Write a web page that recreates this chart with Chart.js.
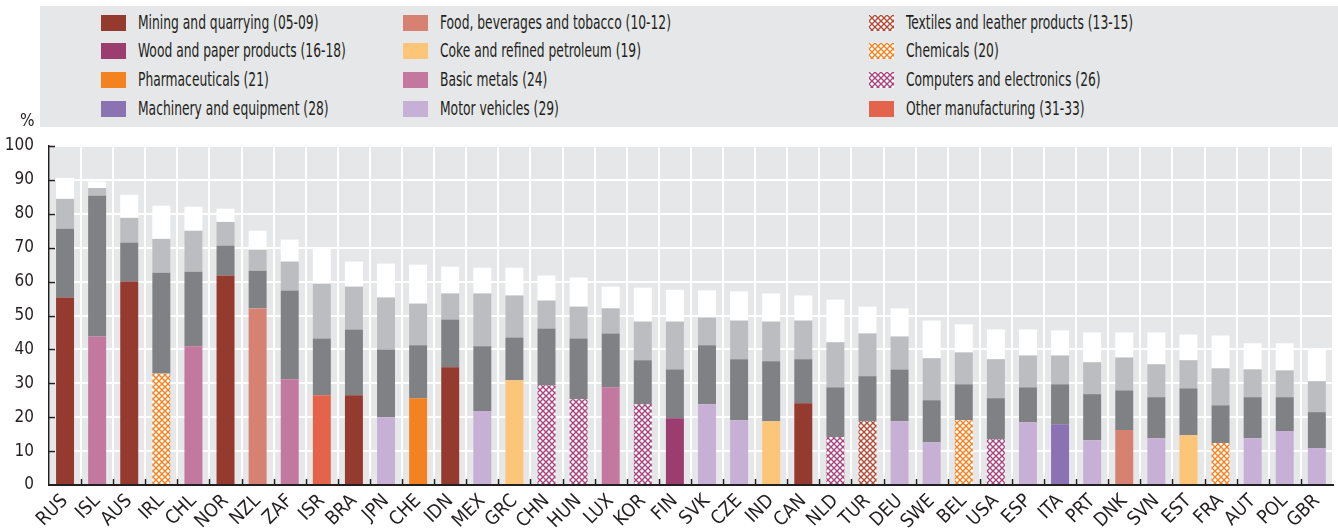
<!DOCTYPE html>
<html>
<head>
<meta charset="utf-8">
<script src="https://cdn.jsdelivr.net/npm/chart.js@4/dist/chart.umd.min.js"></script>
<style>
  body { margin: 0; background: #fff; }
  #wrap { position: relative; width: 1338px; height: 530px; }
  #chart { position: absolute; left: 0; top: 0; }
  #legend {
    position: absolute; left: 40px; top: 6px; width: 1298px; height: 121px;
    background: #e6e7e8;
    font-family: "DejaVu Sans Condensed", "Liberation Sans Narrow", sans-serif;
    font-size: 19px; color: #231f20;
  }
  .item { position: absolute; height: 16px; line-height: 16px; white-space: nowrap; }
  .sw { position: absolute; left: 0; top: 0; width: 25px; height: 16px; }
  .lbl { position: absolute; left: 37px; top: -1px; transform: scaleX(0.72); transform-origin: 0 50%; }
  #pct { position: absolute; left: 20px; top: 110px; font: 17px "DejaVu Sans Condensed", sans-serif; color: #231f20; }
</style>
</head>
<body>
<div id="wrap">
  <canvas id="chart" width="1338" height="530"></canvas>
  <div id="legend"></div>
  <div id="pct">%</div>
</div>
<script>
const countries = ['RUS','ISL','AUS','IRL','CHL','NOR','NZL','ZAF','ISR','BRA','JPN','CHE','IDN','MEX','GRC','CHN','HUN','LUX','KOR','FIN','SVK','CZE','IND','CAN','NLD','TUR','DEU','SWE','BEL','USA','ESP','ITA','PRT','DNK','SVN','EST','FRA','AUT','POL','GBR'];

// largest industry in each country
const topIndustry = ['mining','metals','mining','chemicals','metals','mining','food','metals','other','mining','motor','pharma','mining','motor','coke','computers','computers','metals','computers','wood','motor','motor','coke','mining','computers','textiles','motor','motor','chemicals','computers','motor','machinery','motor','food','motor','coke','chemicals','motor','motor','motor'];

// cumulative shares, %
const shareTop = [55.3,43.8,60.0,32.9,40.9,61.8,52.1,31.2,26.5,26.5,20.0,25.6,34.7,21.8,30.9,29.4,25.3,28.8,23.8,19.7,23.8,19.1,18.8,24.1,14.1,18.8,18.8,12.6,19.1,13.5,18.5,17.9,13.2,16.2,13.8,14.7,12.4,13.8,15.9,10.9];
const shareLevel2 = [75.6,85.3,71.5,62.6,62.9,70.6,63.2,57.4,43.2,45.9,40.0,41.2,48.8,40.9,43.5,46.2,43.2,44.7,36.8,34.1,41.2,37.1,36.5,37.1,28.8,32.1,34.1,25.0,29.7,25.6,28.8,29.7,26.8,27.9,25.9,28.5,23.5,25.9,25.9,21.5];
const shareLevel3 = [84.4,87.6,78.8,72.6,75.0,77.6,69.4,65.9,59.4,58.5,55.3,53.5,56.5,56.5,55.9,54.4,52.6,52.1,48.2,48.2,49.4,48.5,48.2,48.5,42.1,44.7,43.8,37.4,39.1,37.1,38.2,38.2,36.2,37.6,35.6,36.8,34.4,34.1,33.8,30.6];
const shareLevel4 = [90.6,89.5,85.6,82.4,82.1,81.5,75.0,72.4,69.7,65.9,65.3,65.0,64.4,64.1,64.1,61.8,61.2,58.5,58.2,57.6,57.4,57.1,56.5,55.9,54.7,52.6,52.1,48.5,47.4,45.9,45.9,45.6,45.0,45.0,45.0,44.4,44.1,41.8,41.8,40.0];

const industries = [
  { key: 'mining',    label: 'Mining and quarrying (05-09)',        color: '#953a2e' },
  { key: 'food',      label: 'Food, beverages and tobacco (10-12)', color: '#d68171' },
  { key: 'textiles',  label: 'Textiles and leather products (13-15)', color: '#b24a35', hatch: true },
  { key: 'wood',      label: 'Wood and paper products (16-18)',     color: '#9c3d6f' },
  { key: 'coke',      label: 'Coke and refined petroleum (19)',     color: '#fdc577' },
  { key: 'chemicals', label: 'Chemicals (20)',                      color: '#f58220', hatch: true },
  { key: 'pharma',    label: 'Pharmaceuticals (21)',                color: '#f58220' },
  { key: 'metals',    label: 'Basic metals (24)',                   color: '#c2789f' },
  { key: 'computers', label: 'Computers and electronics (26)',      color: '#a8437f', hatch: true },
  { key: 'machinery', label: 'Machinery and equipment (28)',        color: '#8a72b3' },
  { key: 'motor',     label: 'Motor vehicles (29)',                 color: '#c7b0d5' },
  { key: 'other',     label: 'Other manufacturing (31-33)',         color: '#e4644b' },
];

function makeHatch(color) {
  const c = document.createElement('canvas');
  c.width = 6; c.height = 6;
  const g = c.getContext('2d');
  g.fillStyle = '#fff';
  g.fillRect(0, 0, 6, 6);
  g.strokeStyle = color;
  g.lineWidth = 1.4;
  g.beginPath();
  g.moveTo(-1, -1); g.lineTo(7, 7);
  g.moveTo(7, -1); g.lineTo(-1, 7);
  g.stroke();
  return c;
}

const ctx = document.getElementById('chart').getContext('2d');
const fills = {};
industries.forEach(ind => {
  if (ind.hatch) {
    const tile = makeHatch(ind.color);
    fills[ind.key] = { fill: ctx.createPattern(tile, 'repeat'), css: 'url(' + tile.toDataURL() + ')' };
  } else {
    fills[ind.key] = { fill: ind.color, css: ind.color };
  }
});

// legend, 3 columns x 4 rows
const legendEl = document.getElementById('legend');
const colX = [61, 363, 829];
const rowY = [9, 37, 66, 95];
industries.forEach((ind, i) => {
  const d = document.createElement('div');
  d.className = 'item';
  d.style.left = colX[i % 3] + 'px';
  d.style.top = rowY[Math.floor(i / 3)] + 'px';
  const sw = document.createElement('span');
  sw.className = 'sw';
  sw.style.background = fills[ind.key].css;
  const t = document.createElement('span');
  t.className = 'lbl';
  t.textContent = ind.label;
  d.appendChild(sw); d.appendChild(t);
  legendEl.appendChild(d);
});

const seg2 = shareLevel2.map((v, i) => +(v - shareTop[i]).toFixed(1));
const seg3 = shareLevel3.map((v, i) => +(v - shareLevel2[i]).toFixed(1));
const seg4 = shareLevel4.map((v, i) => +(v - shareLevel3[i]).toFixed(1));

const plotBackground = {
  id: 'plotBackground',
  beforeDraw(chart) {
    const { ctx, chartArea: a } = chart;
    ctx.save();
    ctx.fillStyle = '#e6e7e8';
    ctx.fillRect(a.left, a.top, a.right - a.left, a.bottom - a.top);
    ctx.restore();
  }
};

const innerTicks = {
  id: 'innerTicks',
  afterDraw(chart) {
    const { ctx, chartArea: a, scales } = chart;
    const step = (a.right - a.left) / countries.length;
    ctx.save();
    ctx.strokeStyle = '#231f20';
    ctx.lineWidth = 1.5;
    ctx.beginPath();
    for (let i = 1; i < countries.length; i++) {
      const px = Math.round(a.left + i * step) + 0.5;
      ctx.moveTo(px, a.bottom);
      ctx.lineTo(px, a.bottom - 6);
    }
    for (let v = 10; v <= 100; v += 10) {
      const py = Math.round(scales.y.getPixelForValue(v)) + 0.5;
      ctx.moveTo(a.left, py);
      ctx.lineTo(a.left + 6, py);
    }
    ctx.stroke();
    ctx.restore();
  }
};

const fontFamily = '"DejaVu Sans Condensed", "Liberation Sans Narrow", sans-serif';

new Chart(ctx, {
  type: 'bar',
  data: {
    labels: countries,
    datasets: [
      { label: 'top', data: shareTop, backgroundColor: topIndustry.map(k => fills[k].fill) },
      { label: 'level2', data: seg2, backgroundColor: '#808184' },
      { label: 'level3', data: seg3, backgroundColor: '#bcbdc0' },
      { label: 'level4', data: seg4, backgroundColor: '#ffffff' },
    ],
  },
  options: {
    responsive: false,
    animation: false,
    layout: { padding: { top: 146, right: 3, left: 0, bottom: 0 } },
    datasets: { bar: { barPercentage: 0.56, categoryPercentage: 1 } },
    scales: {
      x: {
        stacked: true,
        afterFit: s => { s.height = 45; },
        grid: { color: '#ffffff', lineWidth: 2, drawTicks: false, offset: true },
        border: { color: '#231f20', width: 2 },
        ticks: {
          autoSkip: false, maxRotation: 45, minRotation: 45, padding: 5,
          color: '#231f20', font: { family: fontFamily, size: 19 }
        },
      },
      y: {
        stacked: true,
        min: 0, max: 100,
        afterFit: s => { s.width = 49; },
        grid: { color: '#ffffff', lineWidth: 2, drawTicks: false },
        border: { color: '#231f20', width: 1.5 },
        ticks: {
          stepSize: 10, padding: 15,
          color: '#231f20', font: { family: fontFamily, size: 17 }
        },
      },
    },
    plugins: {
      legend: { display: false },
      tooltip: { enabled: false },
    },
  },
  plugins: [plotBackground, innerTicks],
});
</script>
</body>
</html>
